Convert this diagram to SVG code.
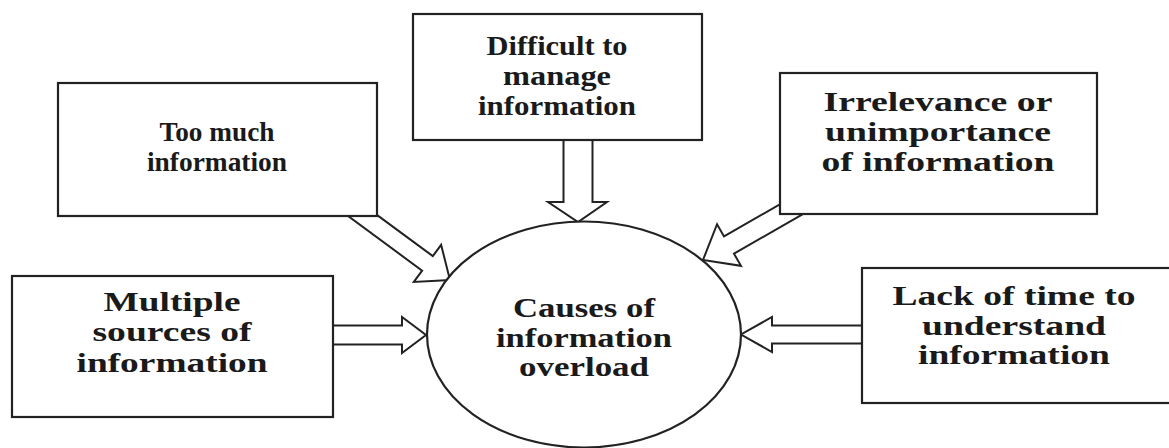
<svg xmlns="http://www.w3.org/2000/svg" width="1169" height="448" viewBox="0 0 1169 448">
<style>
.box{fill:#fff;stroke:#222;stroke-width:2.2}
.arr{fill:#fff;stroke:#222;stroke-width:2;stroke-linejoin:miter}
.t{font-family:"Liberation Serif","Times New Roman",serif;font-weight:bold;font-size:27px;fill:#1a1a1a;text-anchor:middle}
</style>
<rect width="1169" height="448" fill="#fff"/>
<g id="connectors">
<polygon class="arr" points="320,325.5 402,325.5 402,317 426,335 402,353 402,344.5 320,344.5"/>
<polygon class="arr" points="875,325.5 772,325.5 772,317 741,334.5 772,352 772,343.5 875,343.5"/>
<polygon class="arr" points="563.5,130 563.5,202 548,202 578,222 607,202 592.5,202 592.5,130"/>
<polygon class="arr" transform="translate(450,280) rotate(36.4)" points="-130,-9 -28,-9 -28,-23 0,0 -28,23 -28,9 -130,9"/>
<polygon class="arr" transform="translate(703,260) rotate(150.1)" points="-125,-10 -30,-10 -30,-24 0,0 -30,24 -30,10 -125,10"/>
</g>
<g id="too-much">
<rect class="box" x="58" y="83" width="319" height="133"/>
<text class="t" x="217" y="141" textLength="115" lengthAdjust="spacingAndGlyphs">Too much</text>
<text class="t" x="217" y="171" textLength="140" lengthAdjust="spacingAndGlyphs">information</text>
</g>
<g id="difficult">
<rect class="box" x="413" y="14" width="289" height="126"/>
<text class="t" x="557" y="55" textLength="141" lengthAdjust="spacingAndGlyphs">Difficult to</text>
<text class="t" x="557" y="85" textLength="108" lengthAdjust="spacingAndGlyphs">manage</text>
<text class="t" x="557" y="115" textLength="158" lengthAdjust="spacingAndGlyphs">information</text>
</g>
<g id="irrelevance">
<rect class="box" x="780" y="73" width="317" height="141"/>
<text class="t" x="938" y="111" textLength="229" lengthAdjust="spacingAndGlyphs">Irrelevance or</text>
<text class="t" x="938" y="141" textLength="226" lengthAdjust="spacingAndGlyphs">unimportance</text>
<text class="t" x="938" y="171" textLength="233" lengthAdjust="spacingAndGlyphs">of information</text>
</g>
<g id="multiple">
<rect class="box" x="12" y="276" width="321" height="141"/>
<text class="t" x="172" y="311" textLength="137" lengthAdjust="spacingAndGlyphs">Multiple</text>
<text class="t" x="172" y="341" textLength="159" lengthAdjust="spacingAndGlyphs">sources of</text>
<text class="t" x="172" y="372" textLength="191" lengthAdjust="spacingAndGlyphs">information</text>
</g>
<g id="lack-of-time">
<rect class="box" x="862" y="268" width="320" height="135"/>
<text class="t" x="1014" y="305" textLength="243" lengthAdjust="spacingAndGlyphs">Lack of time to</text>
<text class="t" x="1014" y="335" textLength="184" lengthAdjust="spacingAndGlyphs">understand</text>
<text class="t" x="1014" y="364" textLength="192" lengthAdjust="spacingAndGlyphs">information</text>
</g>
<g id="causes">
<ellipse class="box" cx="584" cy="334.5" rx="157" ry="113"/>
<text class="t" x="584" y="317" textLength="142" lengthAdjust="spacingAndGlyphs">Causes of</text>
<text class="t" x="584" y="347" textLength="176" lengthAdjust="spacingAndGlyphs">information</text>
<text class="t" x="584" y="376" textLength="130" lengthAdjust="spacingAndGlyphs">overload</text>
</g>
</svg>
